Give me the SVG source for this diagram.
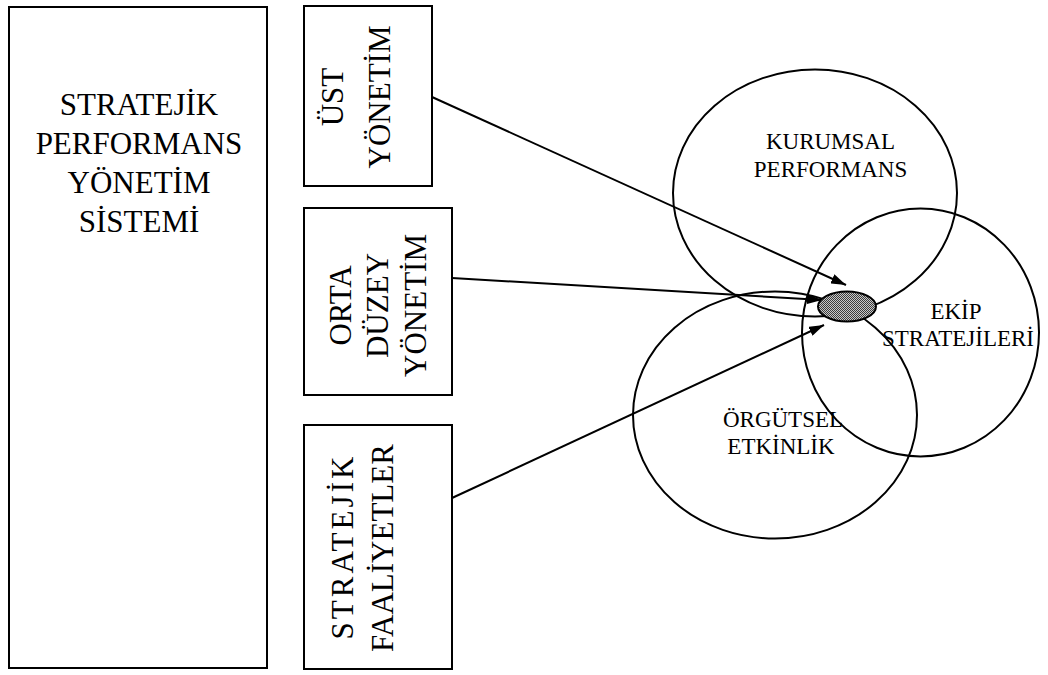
<svg xmlns="http://www.w3.org/2000/svg" width="1048" height="675" viewBox="0 0 1048 675">
  <style>
    .box { fill: #ffffff; stroke: #000000; stroke-width: 2; }
    .ring { fill: none; stroke: #000000; stroke-width: 2; }
    .link { fill: none; stroke: #000000; stroke-width: 2; }
    text { font-family: "Liberation Serif", "Times New Roman", serif; fill: #000000; text-anchor: middle; }
    .big { font-size: 31px; }
    .side { font-size: 31px; }
    .lbl { font-size: 23px; }
  </style>
  <defs>
    <marker id="head" markerWidth="16" markerHeight="10" refX="15" refY="5" orient="auto" markerUnits="userSpaceOnUse">
      <path d="M0,0 L15,5 L0,10 z" fill="#000000"/>
    </marker>
    <pattern id="checker" width="2" height="2" patternUnits="userSpaceOnUse">
      <rect width="2" height="2" fill="#c8c8c8"/>
      <rect width="1" height="1" fill="#3c3c3c"/>
      <rect x="1" y="1" width="1" height="1" fill="#3c3c3c"/>
    </pattern>
  </defs>

  <!-- main system box -->
  <g id="sistem">
    <rect class="box" x="9" y="7" width="258" height="661"/>
    <text class="big" x="139" y="115">STRATEJİK</text>
    <text class="big" x="139" y="154">PERFORMANS</text>
    <text class="big" x="139" y="193">YÖNETİM</text>
    <text class="big" x="139" y="232">SİSTEMİ</text>
  </g>

  <!-- management levels, vertical labels -->
  <g id="ust-yonetim">
    <rect class="box" x="304" y="6" width="128" height="180"/>
    <text class="side" transform="translate(343,97) rotate(-90)">ÜST</text>
    <text class="side" transform="translate(390,97) rotate(-90)">YÖNETİM</text>
  </g>

  <g id="orta-duzey">
    <rect class="box" x="304" y="208" width="148" height="187"/>
    <text class="side" transform="translate(351,305.5) rotate(-90)">ORTA</text>
    <text class="side" transform="translate(388,305.5) rotate(-90)">DÜZEY</text>
    <text class="side" transform="translate(426,305.5) rotate(-90)">YÖNETİM</text>
  </g>

  <g id="faaliyetler">
    <rect class="box" x="304" y="425" width="148" height="244"/>
    <text class="side" transform="translate(353,548) rotate(-90)" textLength="183" lengthAdjust="spacing">STRATEJİK</text>
    <text class="side" transform="translate(393,548) rotate(-90)">FAALİYETLER</text>
  </g>

  <!-- overlapping performance areas -->
  <g id="kurumsal">
    <ellipse class="ring" cx="815" cy="193" rx="142" ry="123.5"/>
    <text class="lbl" x="830.5" y="149">KURUMSAL</text>
    <text class="lbl" x="830.5" y="177">PERFORMANS</text>
  </g>

  <g id="ekip">
    <ellipse class="ring" cx="920.5" cy="332.5" rx="118.5" ry="124"/>
    <text class="lbl" x="956" y="319">EKİP</text>
    <text class="lbl" x="958" y="346">STRATEJİLERİ</text>
  </g>

  <g id="orgutsel">
    <ellipse class="ring" cx="775" cy="415" rx="142" ry="123.5"/>
    <text class="lbl" x="783" y="427">ÖRGÜTSEL</text>
    <text class="lbl" x="781" y="454">ETKİNLİK</text>
  </g>

  <!-- arrows into the common core -->
  <g id="connectors">
    <line class="link" x1="432" y1="97" x2="846" y2="285" marker-end="url(#head)"/>
    <line class="link" x1="452" y1="278" x2="822" y2="300" marker-end="url(#head)"/>
    <line class="link" x1="452" y1="498" x2="824" y2="325" marker-end="url(#head)"/>
  </g>

  <g id="cekirdek">
    <ellipse cx="847" cy="306.5" rx="29" ry="15" fill="url(#checker)" stroke="#000000" stroke-width="2"/>
  </g>
</svg>
